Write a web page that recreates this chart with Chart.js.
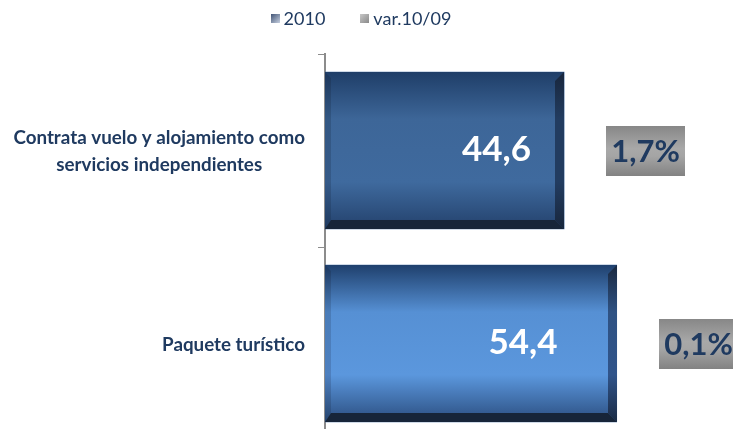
<!DOCTYPE html>
<html>
<head>
<meta charset="utf-8">
<script src="https://cdn.jsdelivr.net/npm/chart.js@4/dist/chart.umd.min.js"></script>
<style>
  html, body { margin: 0; padding: 0; background: #fff; overflow: hidden; }
  #wrap { position: relative; width: 733px; height: 440px; }
</style>
</head>
<body>
<div id="wrap"><canvas id="chart"></canvas></div>
<script>
// datos
const categories = [['Contrata vuelo y alojamiento como', 'servicios independientes'], 'Paquete turístico'];
const values2010 = [44.6, 54.4];
const variation = [1.7, 0.1];
const legendLabels = ['2010', 'var.10/09'];

const TEXT_BLUE = '#1f3a60';
const FONT = 'Lato, "Open Sans", sans-serif';

// colores de las barras (degradado vertical)
const faceStops = [
  ['#1f3e68', '#3d6698', '#3f6a9e', '#23416c'],
  ['#1f406d', '#5690d4', '#5b97dd', '#2b4e80']
];
const leftStops = [
  ['#1c365a', '#335783', '#355a88', '#1f3a60'],
  ['#1c375e', '#4a7cb8', '#4e80bf', '#25446f']
];
const sideStops = [
  ['#18263c', '#223c60', '#223c60', '#18263c'],
  ['#19283f', '#2f5283', '#30548a', '#1a2a43']
];

function fmt(v, dec) {
  return v.toFixed(dec).replace('.', ',');
}

function vGrad(ctx, y0, y1, stops) {
  const g = ctx.createLinearGradient(0, y0, 0, y1);
  g.addColorStop(0, stops[0]);
  g.addColorStop(0.3, stops[1]);
  g.addColorStop(0.7, stops[2]);
  g.addColorStop(1, stops[3]);
  return g;
}

// leyenda dibujada a mano (iconos con degradado)
const legendBox = {
  id: 'legendBox',
  afterDraw(chart) {
    const ctx = chart.ctx;
    ctx.save();
    ctx.font = '18px ' + FONT;
    ctx.textBaseline = 'middle';
    ctx.textAlign = 'left';
    const gap = 35, icon = 9, iconGap = 4;
    const widths = legendLabels.map(t => icon + iconGap + ctx.measureText(t).width);
    const total = widths.reduce((a, b) => a + b, 0) + gap * (widths.length - 1);
    let x = 361 - total / 2;
    const cy = 18;
    const iconCols = [['#3b4e70', '#c0cadb'], ['#c8c8c8', '#8a8a8a']];
    legendLabels.forEach((t, i) => {
      const g = ctx.createLinearGradient(x, cy - 4.5, x + icon, cy + 4.5);
      g.addColorStop(0, iconCols[i][0]);
      g.addColorStop(1, iconCols[i][1]);
      ctx.fillStyle = g;
      ctx.fillRect(Math.round(x), cy - 4, icon, icon);
      ctx.fillStyle = TEXT_BLUE;
      ctx.fillText(t, x + icon + iconGap, cy + 1);
      x += widths[i] + gap;
    });
    ctx.restore();
  }
};

// barras con bisel, etiquetas de valor y cajas de variación
const barDecor = {
  id: 'barDecor',
  afterDatasetsDraw(chart) {
    const ctx = chart.ctx;
    const meta = chart.getDatasetMeta(0);
    meta.data.forEach((bar, i) => {
      const x0 = Math.round(bar.base), x1 = Math.round(bar.x);
      const y0 = Math.round(bar.y - bar.height / 2), y1 = Math.round(bar.y + bar.height / 2);
      const L = 6, R = 9, B = 9;
      ctx.save();
      ctx.fillStyle = vGrad(ctx, y0, y1, faceStops[i]);
      ctx.fillRect(x0, y0, x1 - x0, y1 - y0);
      // lado izquierdo
      ctx.fillStyle = vGrad(ctx, y0, y1, leftStops[i]);
      ctx.beginPath();
      ctx.moveTo(x0, y0); ctx.lineTo(x0 + L, y0 + L); ctx.lineTo(x0 + L, y1 - B); ctx.lineTo(x0, y1);
      ctx.closePath(); ctx.fill();
      // lado derecho
      ctx.fillStyle = vGrad(ctx, y0, y1, sideStops[i]);
      ctx.beginPath();
      ctx.moveTo(x1, y0); ctx.lineTo(x1, y1); ctx.lineTo(x1 - R, y1 - B); ctx.lineTo(x1 - R, y0 + R);
      ctx.closePath(); ctx.fill();
      // base
      ctx.fillStyle = '#172539';
      ctx.beginPath();
      ctx.moveTo(x0, y1); ctx.lineTo(x1, y1); ctx.lineTo(x1 - R, y1 - B); ctx.lineTo(x0 + L, y1 - B);
      ctx.closePath(); ctx.fill();

      // valor
      ctx.fillStyle = '#ffffff';
      ctx.font = 'bold 35px ' + FONT;
      ctx.textAlign = 'center';
      ctx.textBaseline = 'middle';
      ctx.fillText(fmt(values2010[i], 1), (x0 + x1) / 2 + 52, bar.y - 1);

      // caja variación
      const bx = x1 + 42, bw = 79, bh = 50, by = Math.round(bar.y - bh / 2);
      const g = ctx.createLinearGradient(0, by, 0, by + bh);
      g.addColorStop(0, '#878787');
      g.addColorStop(0.45, '#a8a8a8');
      g.addColorStop(0.6, '#a5a5a5');
      g.addColorStop(1, '#828282');
      ctx.fillStyle = g;
      ctx.fillRect(bx, by, bw, bh);
      ctx.fillStyle = TEXT_BLUE;
      ctx.font = 'bold 31px ' + FONT;
      ctx.fillText(fmt(variation[i], 1) + '%', bx + bw / 2, bar.y + 1);
      ctx.restore();
    });
  }
};

// etiquetas de categoría centradas (multilínea)
const catLabels = {
  id: 'catLabels',
  afterDraw(chart) {
    const ctx = chart.ctx;
    const ys = chart.scales.y;
    ctx.save();
    ctx.font = 'bold 18.8px ' + FONT;
    ctx.fillStyle = TEXT_BLUE;
    ctx.textAlign = 'center';
    ctx.textBaseline = 'middle';
    categories.forEach((lab, i) => {
      const lines = Array.isArray(lab) ? lab : [lab];
      const w = Math.max(...lines.map(l => ctx.measureText(l).width));
      const cx = 305 - w / 2;
      const cy = ys.getPixelForValue(i);
      const lh = 27;
      lines.forEach((l, k) => {
        ctx.fillText(l, cx, cy + 1 + (k - (lines.length - 1) / 2) * lh);
      });
    });
    ctx.restore();
  }
};

new Chart(document.getElementById('chart'), {
  type: 'bar',
  data: {
    labels: categories,
    datasets: [{
      label: legendLabels[0],
      data: values2010,
      backgroundColor: '#3f6a9e',
      categoryPercentage: 1,
      barPercentage: 0.816
    }]
  },
  options: {
    indexAxis: 'y',
    responsive: true,
    maintainAspectRatio: false,
    animation: false,
    layout: { padding: 0 },
    scales: {
      x: {
        position: 'top',
        min: 0,
        max: 76,
        grid: { display: false },
        border: { display: false },
        ticks: { display: false },
        afterFit: s => { s.height = 54; }
      },
      y: {
        grid: { drawOnChartArea: false, color: '#8c8c8c', tickLength: 7, offset: true },
        border: { color: '#8c8c8c', width: 2 },
        ticks: { display: false },
        afterFit: s => { s.width = 325; }
      }
    },
    plugins: {
      legend: { display: false },
      tooltip: { enabled: false }
    }
  },
  plugins: [barDecor, catLabels, legendBox]
});
</script>
</body>
</html>
